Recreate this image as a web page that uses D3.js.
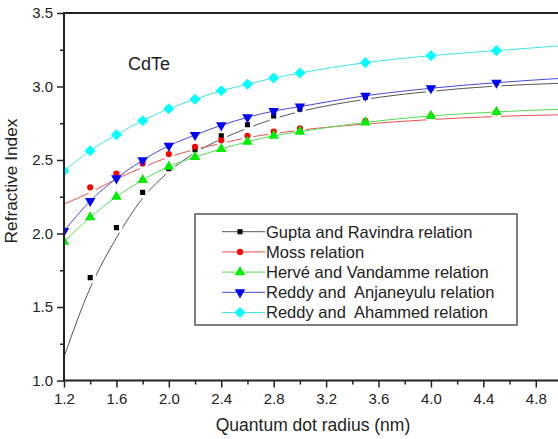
<!DOCTYPE html>
<html>
<head>
<meta charset="utf-8">
<script src="https://cdn.jsdelivr.net/npm/d3@7"></script>
<style>
  html, body { margin: 0; padding: 0; background: #fff; }
  text { font-family: "Liberation Sans", Arial, sans-serif; fill: #222; }
</style>
</head>
<body>
<div class="canvas"></div>
<script>
// quantum dot radius (nm)
const radius = [1.2, 1.4, 1.6, 1.8, 2.0, 2.2, 2.4, 2.6, 2.8, 3.0, 3.5, 4.0, 4.5, 5.0];

const seriesNames = [
    'Gupta and Ravindra relation',
    'Moss relation',
    'Hervé and Vandamme relation',
    'Reddy and  Anjaneyulu relation',
    'Reddy and  Ahammed relation'
];

// symbols (null = no symbol at that radius)
const guptaPts  = [null, 1.70, 2.04, 2.28, 2.44, 2.57, 2.665, 2.74, 2.80, 2.845, 2.927, 2.988, 3.026, null];
const mossPts   = [null, 2.314, 2.407, 2.477, 2.541, 2.59, 2.634, 2.665, 2.693, 2.715, 2.767, 2.801, 2.824, null];
const hervePts  = [1.944, 2.11, 2.25, 2.364, 2.455, 2.52, 2.575, 2.624, 2.665, 2.693, 2.756, 2.80, 2.827, null];
const anjanPts  = [2.017, 2.221, 2.375, 2.498, 2.597, 2.67, 2.736, 2.79, 2.833, 2.863, 2.937, 2.988, 3.026, null];
const ahamPts   = [2.425, 2.563, 2.672, 2.767, 2.849, 2.913, 2.971, 3.015, 3.058, 3.092, 3.162, 3.21, 3.244, null];

// fitted curves
const guptaFit  = [1.16, 1.63, 1.97, 2.24, 2.42, 2.55, 2.642, 2.716, 2.78, 2.829, 2.913, 2.967, 3.003, 3.022];
const mossFit   = [2.20, 2.28, 2.37, 2.45, 2.52, 2.572, 2.613, 2.652, 2.68, 2.703, 2.745, 2.775, 2.796, 2.808];
const herveFit  = [1.944, 2.11, 2.25, 2.364, 2.455, 2.52, 2.575, 2.624, 2.665, 2.693, 2.756, 2.80, 2.827, 2.846];
const anjanFit  = [2.017, 2.221, 2.375, 2.498, 2.597, 2.67, 2.736, 2.79, 2.833, 2.863, 2.937, 2.988, 3.026, 3.056];
const ahamFit   = [2.425, 2.563, 2.672, 2.767, 2.849, 2.913, 2.971, 3.015, 3.058, 3.092, 3.162, 3.21, 3.244, 3.278];

const xMajor = [1.2, 1.6, 2.0, 2.4, 2.8, 3.2, 3.6, 4.0, 4.4, 4.8];
const xMinor = [1.4, 1.8, 2.2, 2.6, 3.0, 3.4, 3.8, 4.2, 4.6, 5.0];
const yMajor = [1.0, 1.5, 2.0, 2.5, 3.0, 3.5];
const yMinor = [1.25, 1.75, 2.25, 2.75, 3.25];

const dims = { width: 558, height: 439, left: 64, right: 562, top: 13, bottom: 380.5 };

const series = [
    { name: seriesNames[0], pts: guptaPts, fit: guptaFit, line: '#555', fill: '#000', shape: 'square', gap: true },
    { name: seriesNames[1], pts: mossPts, fit: mossFit, line: '#ec5050', fill: '#ff0000', shape: 'circle', gap: true },
    { name: seriesNames[2], pts: hervePts, fit: herveFit, line: '#55dd55', fill: '#00ee00', shape: 'up', gap: false },
    { name: seriesNames[3], pts: anjanPts, fit: anjanFit, line: '#4848dd', fill: '#0000ff', shape: 'down', gap: false },
    { name: seriesNames[4], pts: ahamPts, fit: ahamFit, line: '#44e4e4', fill: '#00ffff', shape: 'diamond', gap: false }
];

const svg = d3.select('.canvas')
    .append('svg')
    .attr('width', dims.width)
    .attr('height', dims.height);

const x = d3.scaleLinear().domain([1.2, 5.0]).range([dims.left, dims.right]);
const y = d3.scaleLinear().domain([1.0, 3.5]).range([dims.bottom, dims.top]);

const symbolPath = shape => {
    if (shape === 'square') return d3.symbol(d3.symbolSquare, 26)();
    if (shape === 'circle') return d3.symbol(d3.symbolCircle, 30)();
    if (shape === 'diamond') return d3.symbol(d3.symbolSquare, 62)();
    return d3.symbol(d3.symbolTriangle, 48)();
};
const symbolRotate = shape => shape === 'diamond' ? 45 : (shape === 'down' ? 180 : 0);

const defs = svg.append('defs');
defs.append('clipPath').attr('id', 'plotClip')
    .append('rect')
    .attr('x', dims.left).attr('y', dims.top)
    .attr('width', dims.right - dims.left).attr('height', dims.bottom - dims.top);

// masks that cut the fitted line around its own symbols
series.forEach((s, i) => {
    if (!s.gap) return;
    const m = defs.append('mask').attr('id', 'gap' + i)
        .attr('maskUnits', 'userSpaceOnUse')
        .attr('x', 0).attr('y', 0).attr('width', dims.width).attr('height', dims.height);
    m.append('rect').attr('width', dims.width).attr('height', dims.height).attr('fill', '#fff');
    m.selectAll('circle')
        .data(radius.map((r, j) => [r, s.pts[j]]).filter(d => d[1] != null))
        .enter().append('circle')
        .attr('cx', d => x(d[0])).attr('cy', d => y(d[1]))
        .attr('r', 6).attr('fill', '#000');
});

const graph = svg.append('g').attr('clip-path', 'url(#plotClip)');

const line = d3.line()
    .x((d, i) => x(radius[i]))
    .y(d => y(d))
    .curve(d3.curveMonotoneX);

series.forEach((s, i) => {
    graph.append('path')
        .attr('d', line(s.fit))
        .attr('fill', 'none')
        .attr('stroke', s.line)
        .attr('stroke-width', 1)
        .attr('mask', s.gap ? `url(#gap${i})` : null);
});

series.forEach(s => {
    graph.selectAll(null)
        .data(radius.map((r, j) => [r, s.pts[j]]).filter(d => d[1] != null))
        .enter().append('path')
        .attr('d', symbolPath(s.shape))
        .attr('fill', s.fill)
        .attr('transform', d => `translate(${x(d[0])},${y(d[1])}) rotate(${symbolRotate(s.shape)})`);
});

// axes
const fmt = d3.format('.1f');
svg.append('g').attr('transform', `translate(0,${dims.bottom})`)
    .call(d3.axisBottom(x).tickValues(xMajor).tickSize(7).tickPadding(6).tickFormat(fmt));
svg.append('g').attr('transform', `translate(0,${dims.bottom})`)
    .call(d3.axisBottom(x).tickValues(xMinor).tickSize(4).tickFormat(''));
svg.append('g').attr('transform', `translate(${dims.left},0)`)
    .call(d3.axisLeft(y).tickValues(yMajor).tickSize(7).tickPadding(4).tickFormat(fmt));
svg.append('g').attr('transform', `translate(${dims.left},0)`)
    .call(d3.axisLeft(y).tickValues(yMinor).tickSize(4).tickFormat(''));

svg.selectAll('.domain').remove();
svg.selectAll('.tick line').attr('stroke', '#222').attr('stroke-width', 1.5);
svg.selectAll('.tick text').attr('fill', '#222').style('font-size', '15px')
    .style('font-family', '"Liberation Sans", Arial, sans-serif');

// frame
svg.append('path')
    .attr('d', `M${dims.right},${dims.top}H${dims.left}V${dims.bottom}H${dims.right}`)
    .attr('stroke', '#222').attr('stroke-width', 2).attr('fill', 'none');

// labels
svg.append('text')
    .attr('x', 128).attr('y', 70)
    .style('font-size', '18px')
    .text('CdTe');

svg.append('text')
    .attr('transform', 'translate(16.5,181) rotate(-90)')
    .attr('text-anchor', 'middle')
    .style('font-size', '17.3px')
    .text('Refractive Index');

svg.append('text')
    .attr('x', 313).attr('y', 431)
    .attr('text-anchor', 'middle')
    .style('font-size', '17.5px')
    .text('Quantum dot radius (nm)');

// legend
const legend = svg.append('g');
legend.append('rect')
    .attr('x', 195).attr('y', 214)
    .attr('width', 322).attr('height', 111)
    .attr('fill', '#fff')
    .attr('stroke', '#555')
    .attr('stroke-width', 1.5);

const rows = legend.selectAll('.row')
    .data(series)
    .enter().append('g')
    .attr('class', 'row')
    .attr('transform', (d, i) => `translate(0,${231.7 + i * 20.2})`);

rows.append('line')
    .attr('x1', 222).attr('x2', 265)
    .attr('stroke', d => d.line)
    .attr('stroke-width', 1);

rows.append('path')
    .attr('d', d => symbolPath(d.shape))
    .attr('fill', d => d.fill)
    .attr('transform', d => `translate(240,0) rotate(${symbolRotate(d.shape)})`);

rows.append('text')
    .attr('x', 266)
    .attr('dy', '0.36em')
    .style('font-size', '16.5px')
    .style('white-space', 'pre')
    .attr('xml:space', 'preserve')
    .text(d => d.name);
</script>
</body>
</html>
